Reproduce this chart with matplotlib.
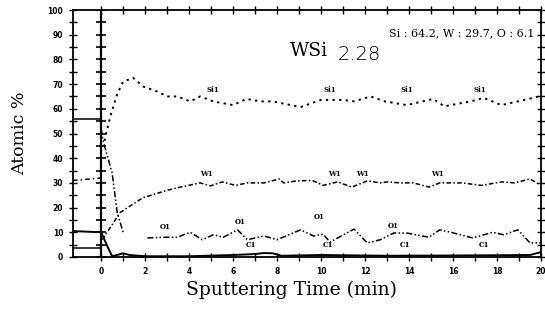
import numpy as np
import matplotlib
matplotlib.use("Agg")
import matplotlib.pyplot as plt

# ---- data ----
t_pre = [-1.28, 0.0]
pre_si = [56, 56]
pre_w = [31, 32]
pre_c = [10.5, 10]
pre_x = [3.5, 3.5]

si_t = [0.15, 0.41, 0.73, 1.0, 1.46, 1.91, 2.55, 3.0, 3.46, 4.05, 4.5, 5.1, 6.0, 6.6,
        7.24, 7.8, 9.07, 10.0, 11.0, 11.5, 12.25, 12.9, 13.9, 15.1, 15.6, 16.8, 17.4,
        18.2, 18.95, 19.9]
si_v = [47, 56.7, 66, 71, 72.5, 69, 67, 65, 65, 63, 65, 63, 61.5, 64,
        63, 63, 60.7, 63.6, 63.6, 63, 65, 63, 61.5, 64, 61, 63, 64.4,
        61.5, 63, 65]

w_t = [0.05, 0.86, 1.9, 3.0, 3.6, 4.5, 4.97, 5.5, 6.1, 6.65, 7.4, 8.1, 8.3, 8.9, 9.6,
       10.1, 10.75, 11.4, 12.1, 12.7, 13.0, 13.6, 14.2, 14.9, 15.4, 16.4, 17.3, 18.2,
       18.8, 19.5, 19.9]
w_v = [7, 18, 24, 27, 28.3, 30, 28.8, 30.4, 29, 30, 30, 31.6, 30, 30.8, 31,
       29, 30.4, 28.3, 30.8, 30, 30.4, 30, 30, 28.3, 30, 30, 29, 30.4,
       30, 31.6, 29.5]

o_t = [0.0, 0.09, 0.5, 0.73, 1.0, 1.5, 2.1, 2.8, 3.46, 4.05, 4.6, 5.1, 5.55, 6.2, 6.65,
       7.4, 8.0, 9.07, 9.66, 10.1, 10.4, 11.5, 12.1, 12.7, 13.3, 13.9, 14.9, 15.4,
       15.9, 16.9, 17.8, 18.3, 18.95, 19.5, 20.0]
o_v = [52, 47, 34, 18, 10, np.nan, 7.7, 8, 8, 10, 7, 9, 8, 11, 7,
       8.5, 7, 11, 8.5, 9.3, 6, 11.3, 5.7, 7, 9.7, 9.7, 8, 11,
       10, 7.7, 10, 9, 11, 5.7, 5.7]

c_t = [0.0, 0.3, 0.5, 0.8, 1.0, 1.3, 2.0, 4.0, 6.0, 7.0, 7.4, 7.8, 8.2, 10.0, 13.0,
       16.0, 19.5, 20.0]
c_v = [10, 4, 0.3, 1.0, 1.5, 0.8, 0.3, 0.3, 0.8, 1.2, 1.6, 1.5, 0.5, 0.8, 0.5,
       0.6, 0.8, 2.0]

labels_si_t = [5.1, 10.4, 13.9, 17.2]
labels_w_t = [4.8, 10.6, 11.9, 15.3]
labels_o = [(2.9, 12), (6.3, 14), (9.9, 16), (13.3, 12.5)]
labels_c_t = [6.8, 10.3, 13.8, 17.4]

xticks = list(range(0, 21, 2))
yticks = list(range(0, 101, 10))

# ---- figure ----
fig = plt.figure(figsize=(5.45, 3.27), dpi=100)
ax = fig.add_axes([73/545, 1-257/327, (541-73)/545, (257-10)/327])

lk = dict(color="black", lw=1.1)
ax.plot(t_pre, pre_si, "-", **lk)
ax.plot(t_pre, pre_w, linestyle=(0, (3, 2, 1, 2)), **lk)
ax.plot(t_pre, pre_c, "-", color="black", lw=1.4)
ax.plot(t_pre, pre_x, "-", **lk)

ax.plot(si_t, si_v, linestyle=(0, (1.2, 2.2)), color="black", lw=1.4)
ax.plot(w_t, w_v, linestyle=(0, (3, 1.5, 1, 1.5)), **lk)
ax.plot(o_t, o_v, linestyle=(0, (4, 1.5, 1, 1.5, 1, 1.5)), **lk)
ax.plot(c_t, c_v, "-", color="black", lw=1.4)

lab = dict(fontsize=5, fontweight="bold", family="DejaVu Serif", ha="center", va="center")
for t in labels_si_t:
    ax.text(t, 67.5, "Si1", **lab)
for t in labels_w_t:
    ax.text(t, 33.5, "W1", **lab)
for t, y in labels_o:
    ax.text(t, y, "O1", **lab)
for t in labels_c_t:
    ax.text(t, 5, "C1", **lab)

# vertical line at t=0 with cross ticks
ax.axvline(0, color="black", lw=1.6)
yt5 = np.arange(0, 101, 5)
ax.plot(np.zeros_like(yt5), yt5, "_", color="black", ms=7, mew=1.2)

ax.set_xlim(-1.28, 20)
ax.set_ylim(0, 100)
ax.set_xticks(xticks)
ax.set_xticks(range(0, 21), minor=True)
ax.set_yticks(yticks)
ax.set_yticks(yt5, minor=True)
ax.set_xticklabels([str(v) for v in xticks])
ax.set_yticklabels([str(v) for v in yticks])
ax.tick_params(which="both", direction="inout", length=6, width=1.0,
               top=True, right=True, labelsize=5.5, pad=4)
for lbl in ax.get_xticklabels() + ax.get_yticklabels():
    lbl.set_fontweight("bold")
    lbl.set_family("DejaVu Sans")
for s in ax.spines.values():
    s.set_linewidth(1.3)

ax.text(0.985, 0.905, "Si : 64.2, W : 29.7, O : 6.1", transform=ax.transAxes,
        ha="right", va="center", fontsize=8, family="DejaVu Serif")
fig.text(290/545, 1-51/327, "WSi", ha="left", va="center",
         fontsize=13.5, family="DejaVu Serif")
fig.text(338/545, 1-54/327, "2.28", ha="left", va="center",
         fontsize=14, family="DejaVu Sans", fontweight="light")

fig.text(292/545, 1-290/327, "Sputtering Time (min)", ha="center", va="center",
         fontsize=13.5, family="DejaVu Serif")
fig.text(20/545, 1-133/327, "Atomic %", ha="center", va="center", rotation=90,
         fontsize=12.5, family="DejaVu Serif")

fig.savefig("out.png", dpi=100)
